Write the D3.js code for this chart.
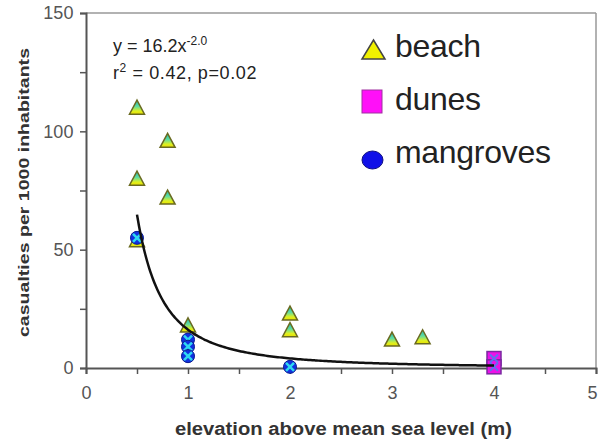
<!DOCTYPE html>
<html><head><meta charset="utf-8">
<script src="https://cdn.jsdelivr.net/npm/d3@7"></script>
<style>body{margin:0;background:#fff}svg{display:block}text{font-family:"Liberation Sans",Arial,sans-serif}</style>
</head><body><svg id="c" width="598" height="441"></svg>
<script>
const beachX = [0.5, 0.5, 0.8, 0.8, 0.5, 1, 2, 2, 3, 3.3];
const beachY = [110, 80, 96, 72, 54, 18, 23, 16, 12, 13];
const dunesX = [4, 4];
const dunesY = [4, 0.5];
const mangX = [0.5, 1, 1, 1, 2];
const mangY = [55, 12, 9, 5, 0.5];
const xTicks = [0, 1, 2, 3, 4, 5];
const yTicks = [0, 50, 100, 150];
const fitA = 16.2, fitB = -2.0;
const legendLabels = ["beach", "dunes", "mangroves"];

const svg = d3.select("#c");
const m = {l: 86, r: 596, t: 13, b: 368};
const x = d3.scaleLinear().domain([0, 5]).range([m.l, m.r]);
const y = d3.scaleLinear().domain([0, 150]).range([m.b, m.t]);

const defs = svg.append("defs");
const g1 = defs.append("linearGradient").attr("id","tri").attr("x1",0).attr("y1",0).attr("x2",0).attr("y2",1);
g1.append("stop").attr("offset","0%").attr("stop-color","#20b8b0");
g1.append("stop").attr("offset","45%").attr("stop-color","#60dca0");
g1.append("stop").attr("offset","78%").attr("stop-color","#e0f020");
g1.append("stop").attr("offset","100%").attr("stop-color","#e8e000");

// frame top/right
svg.append("line").attr("x1",m.l).attr("x2",m.r).attr("y1",m.t).attr("y2",m.t).attr("stroke","#999").attr("stroke-width",1.5);
svg.append("line").attr("x1",m.r).attr("x2",m.r).attr("y1",m.t).attr("y2",m.b).attr("stroke","#999").attr("stroke-width",1.5);

// axes
const xAxis = d3.axisBottom(x).tickValues(d3.range(0, 5.01, 0.5)).tickSize(6)
  .tickFormat(d => xTicks.includes(d) ? d3.format("d")(d) : "");
const gx = svg.append("g").attr("transform",`translate(0,${m.b})`).call(xAxis);
const yAxis = d3.axisLeft(y).tickValues(d3.range(0, 151, 25)).tickSize(6)
  .tickFormat(d => yTicks.includes(d) ? d3.format("d")(d) : "");
const gy = svg.append("g").attr("transform",`translate(${m.l},0)`).call(yAxis);
[gx, gy].forEach(g => {
  g.select(".domain").attr("stroke","#555").attr("stroke-width",2);
  g.selectAll(".tick line").attr("stroke","#555").attr("stroke-width",1.5);
  g.selectAll(".tick text").attr("font-size",18).attr("fill","#555").attr("font-family","Liberation Sans, Arial, sans-serif");
});
gx.selectAll(".tick text").attr("dy","1.2em");
gx.selectAll(".tick text").filter(d => d === 5).attr("dx", -4);
gy.selectAll(".tick text").attr("dx","-0.2em");

// axis titles
svg.append("text").attr("x",175).attr("y",435)
  .attr("font-size",17.5).attr("font-weight","bold").attr("fill","#333")
  .attr("textLength",337).attr("lengthAdjust","spacingAndGlyphs")
  .text("elevation above mean sea level (m)");
svg.append("text").attr("transform","translate(29,337) rotate(-90)")
  .attr("font-size",15.5).attr("font-weight","bold").attr("fill","#333")
  .attr("textLength",289).attr("lengthAdjust","spacingAndGlyphs")
  .text("casualties per 1000 inhabitants");

// equation
const eq = svg.append("text").attr("x",113).attr("y",52).attr("font-size",18).attr("fill","#222");
eq.append("tspan").text(`y = ${fitA}x`);
eq.append("tspan").attr("dy",-7).attr("font-size",12).text(fitB.toFixed(1));
svg.append("text").attr("x",113).attr("y",79).attr("font-size",18).attr("fill","#222")
  .attr("letter-spacing",0.6)
  .html('r<tspan dy="-7" font-size="12">2</tspan><tspan dy="7"> = 0.42, p=0.02</tspan>');

// markers
function triangle(g, cx, cy, s) {
  const h = s;
  g.append("path").attr("d",`M${cx},${cy-h/2-1}L${cx+s/2+1},${cy+h/2}L${cx-s/2-1},${cy+h/2}Z`)
    .attr("fill","url(#tri)").attr("stroke","#6a6a20").attr("stroke-width",1.5);
}
function circle(g, cx, cy, withX) {
  g.append("circle").attr("cx",cx).attr("cy",cy).attr("r",6.5).attr("fill","#1030e0").attr("stroke","#0a1a90").attr("stroke-width",1);
  if (withX) g.append("path").attr("d",`M${cx-4},${cy-4}L${cx+4},${cy+4}M${cx+4},${cy-4}L${cx-4},${cy+4}`)
    .attr("stroke","#30d8f0").attr("stroke-width",2.5);
}
function square(g, cx, cy) {
  g.append("rect").attr("x",cx-7).attr("y",cy-7).attr("width",14).attr("height",14)
    .attr("fill","#ee10e8").attr("stroke","#7a2aa0").attr("stroke-width",1.5);
}

const pts = svg.append("g");
beachX.forEach((d,i) => triangle(pts, x(d), y(beachY[i]), 13));
dunesX.forEach((d,i) => square(pts, x(d), y(dunesY[i])));
dunesX.forEach((d,i) => {
  const cx = x(d), cy = y(dunesY[i]);
  pts.append("path").attr("d",`M${cx-4},${cy-4}L${cx+4},${cy+4}M${cx+4},${cy-4}L${cx-4},${cy+4}`)
    .attr("stroke","#6070f0").attr("stroke-width",2);
});

// fit curve
const xs = d3.range(0.5, 4.001, 0.02);
svg.append("path").datum(xs)
  .attr("d", d3.line().x(d => x(d)).y(d => y(fitA * Math.pow(d, fitB))).curve(d3.curveMonotoneX))
  .attr("fill","none").attr("stroke","#111").attr("stroke-width",2.5);

mangX.forEach((d,i) => circle(pts.append("g"), x(d), y(mangY[i]), true));

// legend
const lg = svg.append("g");
legendLabels.forEach((lab,i) => {
  const ly = 50 + i*53;
  if (i===0) {
    lg.append("path").attr("d",`M373.5,${ly-10}L385,${ly+9}L362,${ly+9}Z`).attr("fill","#f0f000").attr("stroke","#444").attr("stroke-width",1.5);
  } else if (i===1) {
    lg.append("rect").attr("x",362).attr("y",ly-13).attr("width",20).attr("height",23).attr("fill","#ff10f8").attr("stroke","#a030a0");
  } else {
    lg.append("ellipse").attr("cx",372.5).attr("cy",ly+4).attr("rx",10.5).attr("ry",9).attr("fill","#1010e8").attr("stroke","#101080");
  }
  lg.append("text").attr("x",395).attr("y",ly+7).attr("font-size",32).attr("fill","#222")
    .attr("letter-spacing",-0.3).text(lab);
});
</script></body></html>
